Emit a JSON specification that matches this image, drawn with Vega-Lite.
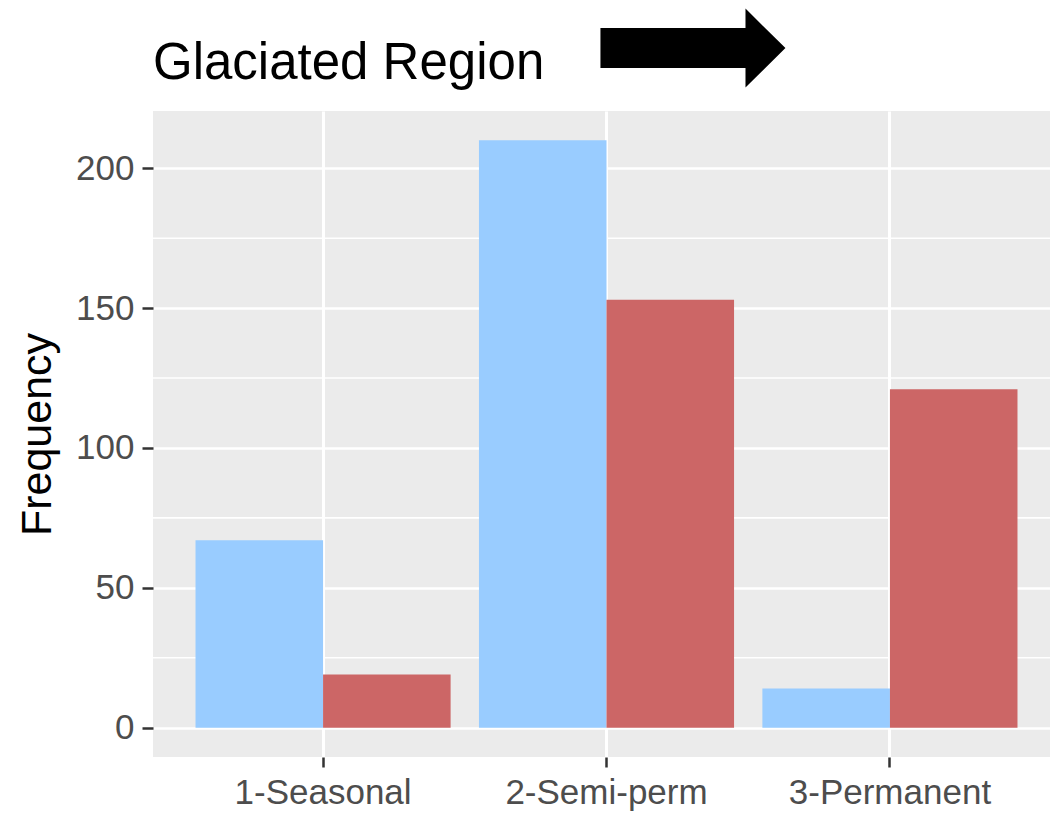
{
  "$schema": "https://vega.github.io/schema/vega-lite/v6.json",
  "width": 907,
  "height": 646,
  "autosize": {"type": "none"},
  "padding": {"left": 153, "top": 111, "right": 0, "bottom": 56},
  "background": "white",
  "config": {
    "view": {"fill": "#EBEBEB", "stroke": null},
    "axis": {
      "domain": false,
      "grid": true,
      "gridColor": "white",
      "tickColor": "#333333",
      "tickWidth": 2.5,
      "tickSize": 11,
      "labelFont": "Liberation Sans",
      "labelFontSize": 35,
      "labelColor": "#4D4D4D",
      "labelLimit": 0,
      "titleFont": "Liberation Sans",
      "titleFontSize": 43,
      "titleFontWeight": "normal",
      "titleColor": "black"
    }
  },
  "datasets": {
    "bars": [
      {"type": "1-Seasonal", "grp": "Series 1", "freq": 67},
      {"type": "1-Seasonal", "grp": "Series 2", "freq": 19},
      {"type": "2-Semi-perm", "grp": "Series 1", "freq": 210},
      {"type": "2-Semi-perm", "grp": "Series 2", "freq": 153},
      {"type": "3-Permanent", "grp": "Series 1", "freq": 14},
      {"type": "3-Permanent", "grp": "Series 2", "freq": 121}
    ],
    "minor": [{"v": 25}, {"v": 75}, {"v": 125}, {"v": 175}],
    "arrow": [{"ax": 2.305, "ay": 243}],
    "heading": [{"hx": 0.4, "hy": 232, "label": "Glaciated Region"}]
  },
  "layer": [
    {
      "data": {"name": "minor"},
      "mark": {"type": "rule", "color": "white", "strokeWidth": 1.6},
      "encoding": {
        "y": {
          "field": "v",
          "type": "quantitative",
          "scale": {"domain": [-10.5, 220.5], "nice": false, "zero": false},
          "axis": {"title": "Frequency", "values": [0, 50, 100, 150, 200], "gridWidth": 2.7, "labelPadding": 8, "titlePadding": 16}
        }
      }
    },
    {
      "data": {"name": "bars"},
      "mark": {"type": "bar"},
      "encoding": {
        "x": {
          "field": "type",
          "type": "nominal",
          "scale": {"paddingInner": 0, "paddingOuter": 0.1},
          "axis": {"title": null, "labelAngle": 0, "bandPosition": 0.5, "gridWidth": 3, "labelPadding": 8, "tickSize": 10}
        },
        "xOffset": {
          "field": "grp",
          "type": "nominal",
          "scale": {"paddingInner": 0, "paddingOuter": 0.1111}
        },
        "y": {
          "field": "freq",
          "type": "quantitative",
          "scale": {"domain": [-10.5, 220.5], "nice": false, "zero": false},
          "axis": {"title": "Frequency", "values": [0, 50, 100, 150, 200], "gridWidth": 2.7, "labelPadding": 8, "titlePadding": 16}
        },
        "y2": {"datum": 0},
        "color": {
          "field": "grp",
          "type": "nominal",
          "scale": {"domain": ["Series 1", "Series 2"], "range": ["#99CCFF", "#CC6666"]},
          "legend": null
        }
      }
    },
    {
      "data": {"name": "arrow"},
      "mark": {
        "type": "point",
        "shape": "M-1,-0.216L0.568,-0.216L0.568,-0.427L1,0L0.568,0.427L0.568,0.216L-1,0.216Z",
        "size": 34225,
        "filled": true,
        "color": "black",
        "opacity": 1,
        "strokeWidth": 0
      },
      "encoding": {
        "x": {
          "field": "ax",
          "type": "quantitative",
          "scale": {"domain": [0.4, 3.6], "nice": false, "zero": false},
          "axis": null
        },
        "y": {
          "field": "ay",
          "type": "quantitative",
          "scale": {"domain": [-10.5, 220.5], "nice": false, "zero": false},
          "axis": {"title": "Frequency", "values": [0, 50, 100, 150, 200], "gridWidth": 2.7, "labelPadding": 8, "titlePadding": 16}
        }
      }
    },
    {
      "data": {"name": "heading"},
      "mark": {
        "type": "text",
        "align": "left",
        "baseline": "alphabetic",
        "font": "Liberation Sans",
        "fontSize": 51,
        "color": "black"
      },
      "encoding": {
        "x": {
          "field": "hx",
          "type": "quantitative",
          "scale": {"domain": [0.4, 3.6], "nice": false, "zero": false},
          "axis": null
        },
        "y": {
          "field": "hy",
          "type": "quantitative",
          "scale": {"domain": [-10.5, 220.5], "nice": false, "zero": false},
          "axis": {"title": "Frequency", "values": [0, 50, 100, 150, 200], "gridWidth": 2.7, "labelPadding": 8, "titlePadding": 16}
        },
        "text": {"field": "label", "type": "nominal"}
      }
    }
  ],
  "resolve": {"scale": {"x": "independent"}}
}
